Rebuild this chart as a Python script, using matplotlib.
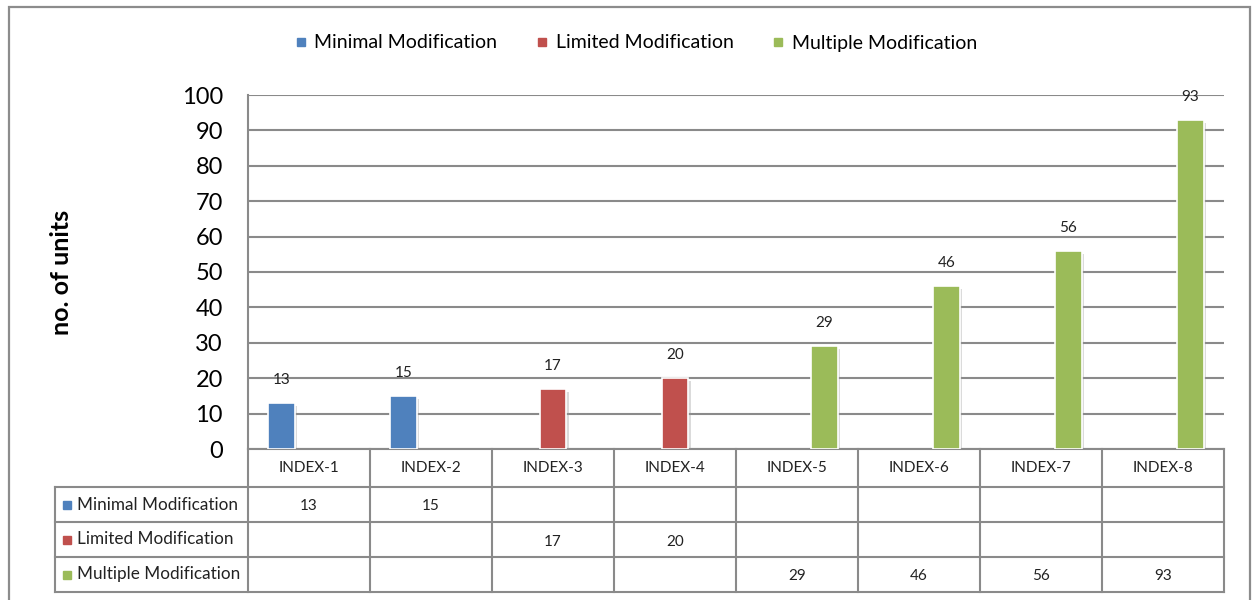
import numpy as np
import matplotlib.pyplot as plt
from matplotlib.lines import Line2D
from matplotlib.patches import Rectangle
import matplotlib.patheffects as pe

plt.rcParams['font.family'] = ['Lato', 'DejaVu Sans']

categories = ['INDEX-1', 'INDEX-2', 'INDEX-3', 'INDEX-4',
              'INDEX-5', 'INDEX-6', 'INDEX-7', 'INDEX-8']
series_names = ['Minimal Modification', 'Limited Modification', 'Multiple Modification']
minimal = [13, 15, np.nan, np.nan, np.nan, np.nan, np.nan, np.nan]
limited = [np.nan, np.nan, 17, 20, np.nan, np.nan, np.nan, np.nan]
multiple = [np.nan, np.nan, np.nan, np.nan, 29, 46, 56, 93]
colors = ['#4F81BD', '#C0504D', '#9BBB59']

W, H = 1254, 600
GRID = '#8a8a8a'


def fx(px):
    return px / W


def fy(py):
    return 1 - py / H


fig = plt.figure(figsize=(W / 100, H / 100), dpi=100)

# outer chart frame
fig.add_artist(Rectangle((fx(9), fy(640)), fx(1250) - fx(9), fy(7) - fy(640),
                         transform=fig.transFigure, fill=False, ec='#8c8c8c', lw=1.6))

# main plot area
ax = fig.add_axes([fx(248), fy(449), fx(1224) - fx(248), fy(95) - fy(449)])
x = np.arange(len(categories))
width = 0.215
offsets = [-0.225, 0.0, 0.225]
shadow = [pe.SimplePatchShadow(offset=(2, -2), shadow_rgbFace='#999999', alpha=0.35), pe.Normal()]
for vals, off, c in zip([minimal, limited, multiple], offsets, colors):
    bars = ax.bar(x + off, vals, width, color=c, edgecolor='white', linewidth=1.2, zorder=3)
    for b in bars:
        b.set_path_effects(shadow)
    for xi, v in zip(x, vals):
        if not np.isnan(v):
            ax.annotate(f'{v:g}', (xi + off, v), xytext=(0, 23), textcoords='offset pixels',
                        ha='center', va='center', fontsize=11, color='#222222')

ax.set_xlim(-0.5, len(categories) - 0.5)
ax.set_ylim(0, 100)
ax.set_yticks(range(0, 101, 10))
ax.set_xticks([])
ax.tick_params(axis='y', labelsize=17, length=0, pad=18)
ax.yaxis.grid(True, color=GRID, lw=1.5, zorder=0)
for s in ['top', 'right']:
    ax.spines[s].set_visible(False)
for s in ['left', 'bottom']:
    ax.spines[s].set_color(GRID)
    ax.spines[s].set_linewidth(1.5)

fig.text(fx(62), fy(272), 'no. of units', rotation=90, fontsize=18, fontweight='bold',
         ha='center', va='center')

# legend
handles = [Line2D([], [], marker='s', ls='', color=c, markersize=6) for c in colors]
fig.legend(handles, series_names, loc='center', bbox_to_anchor=(fx(636), fy(43)), ncol=3,
           frameon=False, fontsize=14, handlelength=0.6, handletextpad=0.4, columnspacing=2.0)

# data table
x_left = -0.5 - (248 - 55) / 122
ax_t = fig.add_axes([fx(55), fy(592), fx(1224) - fx(55), fy(449) - fy(592)])
ax_t.set_xlim(x_left, len(categories) - 0.5)
ax_t.set_ylim(143, 0)
ax_t.axis('off')
rows = [0, 38, 73, 108, 143]
lk = dict(color=GRID, lw=1.5, solid_capstyle='projecting', clip_on=False)
for xb in np.arange(len(categories) + 1) - 0.5:
    ax_t.plot([xb, xb], [0, 143], **lk)
for yb in rows[1:]:
    ax_t.plot([x_left, len(categories) - 0.5], [yb, yb], **lk)
ax_t.plot([x_left, x_left], [38, 143], **lk)

for xi, cat in zip(x, categories):
    ax_t.text(xi, 19, cat, ha='center', va='center', fontsize=11, color='#222222')
for r, (name, vals, c) in enumerate(zip(series_names, [minimal, limited, multiple], colors)):
    yc = (rows[r + 1] + rows[r + 2]) / 2
    ax_t.plot([x_left + 12 / 122], [yc], marker='s', ls='', color=c, markersize=5.5, clip_on=False)
    ax_t.text(x_left + 22 / 122, yc, name, ha='left', va='center', fontsize=12.3, color='#222222')
    for xi, v in zip(x, vals):
        if not np.isnan(v):
            ax_t.text(xi, yc + 2, f'{v:g}', ha='center', va='center', fontsize=11, color='#222222')

fig.savefig('out.png', dpi=100)
